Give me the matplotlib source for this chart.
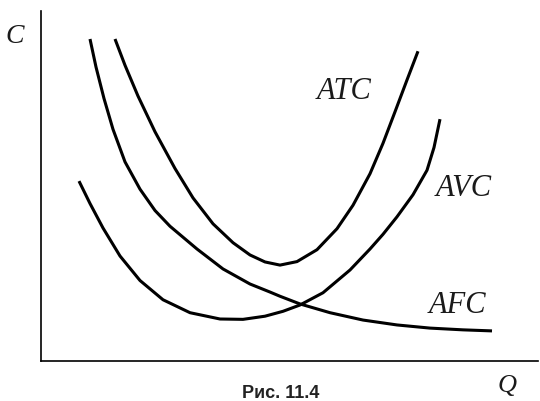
import numpy as np
import matplotlib
matplotlib.use("Agg")
import matplotlib.pyplot as plt

# curves (Q, C)
atc_q = [1.48, 1.68, 1.94, 2.28, 2.68, 3.04, 3.44, 3.84, 4.18, 4.48, 4.78,
         5.12, 5.52, 5.92, 6.24, 6.58, 6.84, 7.08, 7.32, 7.54]
atc_c = [9.20, 8.45, 7.57, 6.55, 5.50, 4.66, 3.92, 3.38, 3.03, 2.83, 2.74,
         2.84, 3.18, 3.78, 4.45, 5.35, 6.22, 7.12, 8.03, 8.85]

avc_q = [0.76, 0.98, 1.24, 1.58, 1.98, 2.44, 2.98, 3.58, 4.04, 4.48, 4.84,
         5.18, 5.64, 6.18, 6.58, 6.84, 7.12, 7.44, 7.72, 7.86, 7.98]
avc_c = [5.14, 4.50, 3.80, 3.00, 2.30, 1.75, 1.38, 1.20, 1.19, 1.28, 1.42,
         1.60, 1.95, 2.60, 3.20, 3.62, 4.12, 4.75, 5.45, 6.10, 6.91]

afc_q = [0.98, 1.10, 1.26, 1.44, 1.68, 1.98, 2.28, 2.58, 3.12, 3.64, 4.18,
         4.58, 4.78, 5.18, 5.78, 6.44, 7.12, 7.78, 8.44, 9.02]
afc_c = [9.20, 8.40, 7.50, 6.62, 5.69, 4.91, 4.30, 3.85, 3.20, 2.63, 2.20,
         1.97, 1.85, 1.63, 1.38, 1.17, 1.03, 0.94, 0.89, 0.86]

labels = ["ATC", "AVC", "AFC"]
label_pos = [(6.06, 7.74), (8.46, 4.97), (8.32, 1.60)]

fig = plt.figure(figsize=(5.4, 4.02), dpi=100)
ax = fig.add_axes([41 / 540, 40 / 402, 497 / 540, 350 / 402])
ax.set_xlim(0, 9.94)
ax.set_ylim(0, 10)

for q, c in [(atc_q, atc_c), (avc_q, avc_c), (afc_q, afc_c)]:
    ax.plot(q, c, color="black", lw=2.2, solid_capstyle="butt", solid_joinstyle="round")

serif = dict(family="Liberation Serif", style="italic", color="#1a1a1a")
for lab, (x, y) in zip(labels, label_pos):
    ax.text(x, y, lab, fontsize=22, ha="center", va="center", **serif)

ax.text(-0.52, 9.31, "C", fontsize=20, ha="center", va="center", clip_on=False, **serif)
ax.text(9.32, -0.68, "Q", fontsize=19, ha="center", va="center", clip_on=False, **serif)
ax.text(4.8, -0.66, "Рис. 11.4", fontsize=13, fontweight="bold", ha="center", va="top",
        family="Liberation Sans", color="#222222", clip_on=False)

for s in ["top", "right"]:
    ax.spines[s].set_visible(False)
for s in ["left", "bottom"]:
    ax.spines[s].set_linewidth(1.2)
ax.set_xticks([])
ax.set_yticks([])

fig.savefig("out.png", dpi=100)
